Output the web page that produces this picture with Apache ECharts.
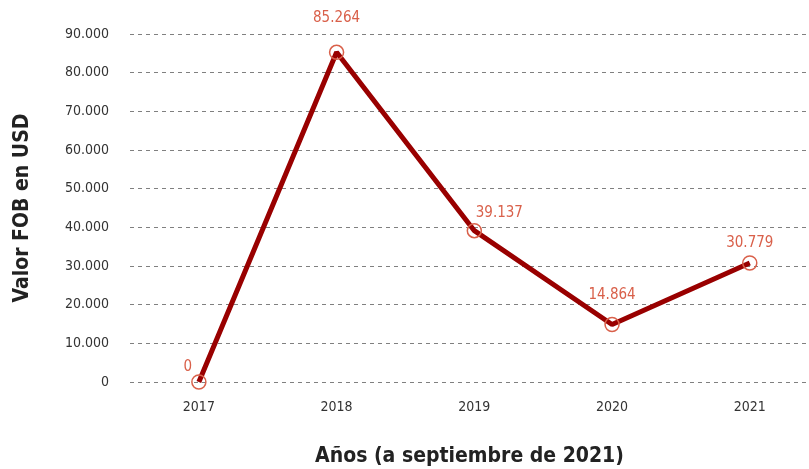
<!DOCTYPE html>
<html>
<head>
<meta charset="utf-8">
<script src="https://cdn.jsdelivr.net/npm/echarts@6/dist/echarts.min.js"></script>
<style>
    html, body { margin: 0; padding: 0; background: #fff; }
    #chart { width: 809px; height: 469px; }
</style>
</head>
<body>
<div id="chart"></div>
<script>
// datos
var years = ["2017", "2018", "2019", "2020", "2021"];
var fobValues = [0, 85264, 39137, 14864, 30779];
var yTicks = [0, 10000, 20000, 30000, 40000, 50000, 60000, 70000, 80000, 90000];

// desplazamiento de etiquetas [x, y]
var labelOffsets = [[-11, 4], [0, -15], [25, 2], [0, -10], [0, -1]];

var FONT = "'Liberation Sans Narrow', 'DejaVu Sans Condensed', sans-serif";

function fmt(v) {
    return String(v).replace(/\B(?=(\d{3})+(?!\d))/g, ".");
}

var yearIdx = years.map(function (y, i) { return i; });

var chart = echarts.init(document.getElementById("chart"));
chart.setOption({
    animation: false,
    grid: {
        left: 130,
        right: 0,
        top: 34,
        bottom: 87,
        outerBoundsMode: "none"
    },
    xAxis: {
        // eje de valores para que la rejilla pase del borde derecho
        type: "value",
        min: -0.5,
        max: 4.43,
        name: "Años (a septiembre de 2021)",
        nameLocation: "middle",
        nameGap: 64,
        nameTextStyle: {
            fontFamily: FONT,
            fontSize: 21,
            fontWeight: "bold",
            color: "#222"
        },
        axisLine: { show: false },
        axisTick: { show: false },
        splitLine: { show: false },
        axisLabel: {
            customValues: yearIdx,
            margin: 18,
            fontFamily: FONT,
            fontSize: 14,
            color: "#333",
            formatter: function (v) { return years[Math.round(v)]; }
        }
    },
    yAxis: {
        type: "value",
        min: yTicks[0],
        max: yTicks[yTicks.length - 1],
        interval: yTicks[1] - yTicks[0],
        name: "Valor FOB en USD",
        nameLocation: "middle",
        nameGap: 97,
        nameRotate: 90,
        nameTextStyle: {
            fontFamily: FONT,
            fontSize: 21,
            fontWeight: "bold",
            color: "#222"
        },
        axisLine: { show: false },
        axisTick: { show: false },
        axisLabel: {
            margin: 21,
            fontFamily: FONT,
            fontSize: 14,
            color: "#333",
            formatter: function (v) { return fmt(v); }
        },
        splitLine: {
            show: true,
            lineStyle: {
                color: "#808080",
                width: 1,
                type: [4, 4]
            }
        }
    },
    series: [
        {
            type: "line",
            data: fobValues.map(function (v, i) {
                return {
                    value: [yearIdx[i], v],
                    label: { offset: labelOffsets[i] }
                };
            }),
            symbol: "circle",
            symbolSize: 14,
            lineStyle: {
                color: "#990000",
                width: 5
            },
            itemStyle: {
                color: "rgba(0,0,0,0)",
                borderColor: "#d9604a",
                borderWidth: 1.5
            },
            label: {
                show: true,
                position: "top",
                distance: 4,
                fontFamily: FONT,
                fontSize: 15,
                color: "#d9604a",
                formatter: function (p) { return fmt(p.value[1]); }
            },
            z: 3
        }
    ]
});
</script>
</body>
</html>
